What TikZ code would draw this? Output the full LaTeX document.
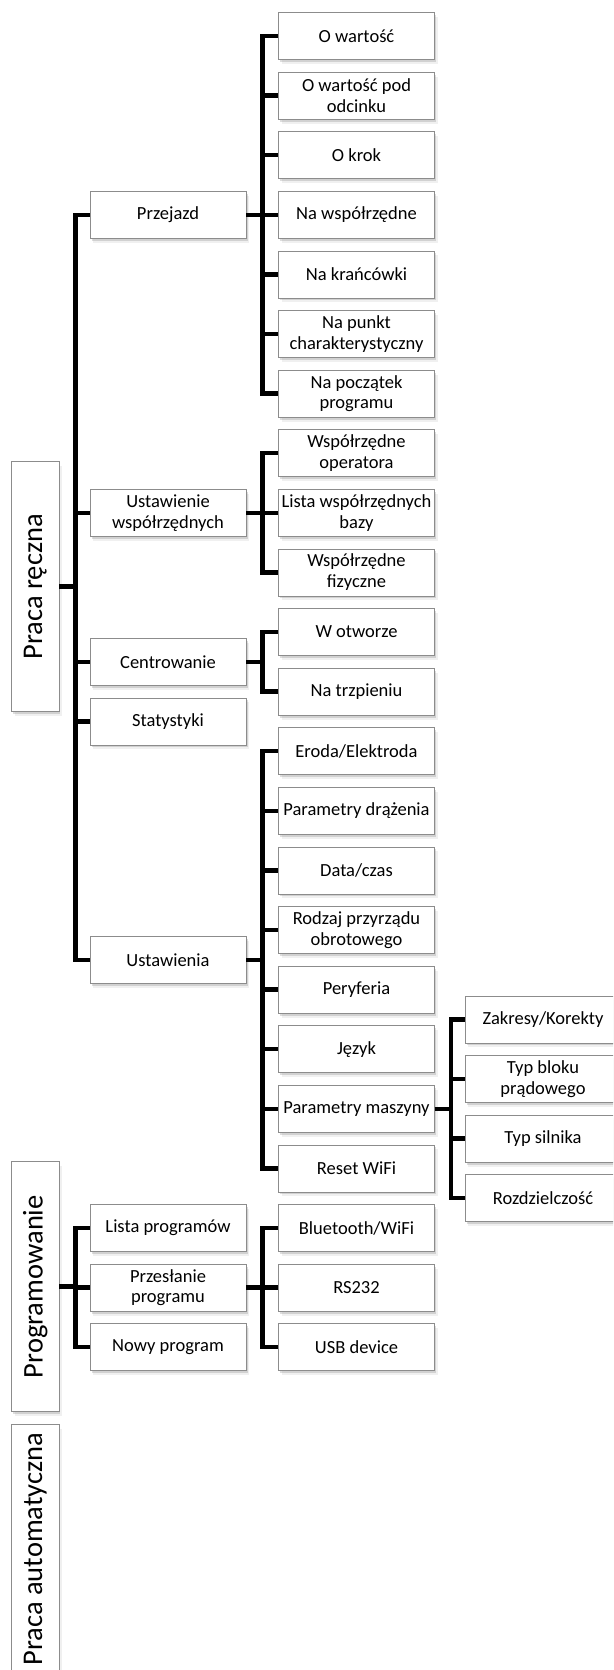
\documentclass[tikz,border=0pt]{standalone}
\usepackage{fontspec}
\setmainfont{Carlito}
\usetikzlibrary{shadows}
\begin{document}
\begin{tikzpicture}[x=1pt,y=-1pt,
  box/.style={draw=black!45, line width=0.8pt, fill=white, minimum width=156pt,
    minimum height=47pt, inner sep=0pt, align=center,
    font=\fontsize{18.5}{20.7}\selectfont,
    drop shadow={shadow xshift=3pt, shadow yshift=-4.5pt, fill=black!50, opacity=0.12},
    drop shadow={shadow xshift=1.5pt, shadow yshift=-2.5pt, fill=black!60, opacity=0.22}},
  vbox/.style={box, minimum width=47.3pt, minimum height=250pt,
    font=\fontsize{28.5}{30}\selectfont},
  conn/.style={line width=4.5pt, draw=black}]
\path[use as bounding box] (0,0) rectangle (613,1670);
\clip (0,0) rectangle (613,1670);

% root boxes
\node[vbox] (pr) at (35.3,586.7) {\rotatebox{90}{Praca ręczna}};
\node[vbox] (pg) at (35.3,1286.7) {\rotatebox{90}{Programowanie}};
\node[vbox] (pa) at (35.3,1549) {\rotatebox{90}{Praca automatyczna}};

% level 1
\node[box] (przejazd) at (168,214.8) {Przejazd};
\node[box] (ustwsp) at (168,512.8) {Ustawienie\\współrzędnych};
\node[box] (centr) at (168,661.8) {Centrowanie};
\node[box] (stat) at (168,721.4) {Statystyki};
\node[box] (ustaw) at (168,959.8) {Ustawienia};
\node[box] (lista) at (168,1228) {Lista programów};
\node[box] (przes) at (168,1287.6) {Przesłanie\\programu};
\node[box] (nowy) at (168,1347.2) {Nowy program};

% level 2 - Przejazd
\node[box] (a1) at (356.5,36) {O wartość};
\node[box] (a2) at (356.5,95.6) {O wartość pod\\odcinku};
\node[box] (a3) at (356.5,155.2) {O krok};
\node[box] (a4) at (356.5,214.8) {Na współrzędne};
\node[box] (a5) at (356.5,274.4) {Na krańcówki};
\node[box] (a6) at (356.5,334) {Na punkt\\charakterystyczny};
\node[box] (a7) at (356.5,393.6) {Na początek\\programu};
% Ustawienie współrzędnych
\node[box] (b1) at (356.5,453.2) {Współrzędne\\operatora};
\node[box] (b2) at (356.5,512.8) {Lista współrzędnych\\bazy};
\node[box] (b3) at (356.5,572.4) {Współrzędne\\fizyczne};
% Centrowanie
\node[box] (c1) at (356.5,632) {W otworze};
\node[box] (c2) at (356.5,691.6) {Na trzpieniu};
% Ustawienia
\node[box] (d1) at (356.5,751.2) {Eroda/Elektroda};
\node[box] (d2) at (356.5,810.8) {Parametry drążenia};
\node[box] (d3) at (356.5,870.4) {Data/czas};
\node[box] (d4) at (356.5,930) {Rodzaj przyrządu\\obrotowego};
\node[box] (d5) at (356.5,989.6) {Peryferia};
\node[box] (d6) at (356.5,1049.2) {Język};
\node[box] (d7) at (356.5,1108.8) {Parametry maszyny};
\node[box] (d8) at (356.5,1168.4) {Reset WiFi};
% Przesłanie programu
\node[box] (e1) at (356.5,1228) {Bluetooth/WiFi};
\node[box] (e2) at (356.5,1287.6) {RS232};
\node[box] (e3) at (356.5,1347.2) {USB device};

% level 3 - Parametry maszyny
\node[box] (f1) at (543,1019.4) {Zakresy/Korekty};
\node[box] (f2) at (543,1079) {Typ bloku\\prądowego};
\node[box] (f3) at (543,1138.6) {Typ silnika};
\node[box] (f4) at (543,1198.2) {Rozdzielczość};

% connectors
\foreach \c in {przejazd,ustwsp,centr,stat,ustaw}
  \draw[conn] (pr.east) -- ++(16,0) |- (\c.west);
\foreach \c in {lista,przes,nowy}
  \draw[conn] (pg.east) -- ++(16,0) |- (\c.west);
\foreach \c in {a1,a2,a3,a4,a5,a6,a7}
  \draw[conn] (przejazd.east) -- ++(16,0) |- (\c.west);
\foreach \c in {b1,b2,b3}
  \draw[conn] (ustwsp.east) -- ++(16,0) |- (\c.west);
\foreach \c in {c1,c2}
  \draw[conn] (centr.east) -- ++(16,0) |- (\c.west);
\foreach \c in {d1,d2,d3,d4,d5,d6,d7,d8}
  \draw[conn] (ustaw.east) -- ++(16,0) |- (\c.west);
\foreach \c in {e1,e2,e3}
  \draw[conn] (przes.east) -- ++(16,0) |- (\c.west);
\foreach \c in {f1,f2,f3,f4}
  \draw[conn] (d7.east) -- ++(16,0) |- (\c.west);
\end{tikzpicture}
\end{document}
